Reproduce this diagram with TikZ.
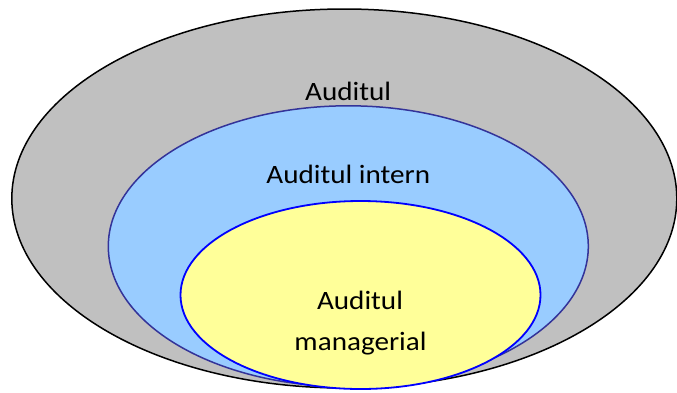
\documentclass[tikz,border=0pt]{standalone}
\usepackage{fontspec}
\setmainfont{Carlito}
\usetikzlibrary{shapes.geometric}
\definecolor{outerfill}{HTML}{C0C0C0}
\definecolor{midfill}{HTML}{99CCFF}
\definecolor{middraw}{HTML}{333399}
\definecolor{innerfill}{HTML}{FFFF99}
\definecolor{innerdraw}{HTML}{0000FF}
\newcommand{\wide}[1]{\scalebox{1.1}[1]{#1}}
\tikzset{
  ring/.style={ellipse, inner sep=0pt, outer sep=0pt},
  lbl/.style={anchor=base, inner sep=0pt, font=\fontsize{26.5}{32}\selectfont},
}
\begin{document}
\begin{tikzpicture}[x=1pt, y=-1pt]
\useasboundingbox (0,0) rectangle (677,392);
\node[ring, draw=black, line width=1.5pt, fill=outerfill, minimum width=665pt, minimum height=379pt] (outer) at (344.3,198.5) {};
\node[ring, draw=middraw, line width=1.5pt, fill=midfill, minimum width=480pt, minimum height=281pt] (mid) at (348.3,246.3) {};
\node[ring, draw=innerdraw, line width=1.8pt, fill=innerfill, minimum width=360pt, minimum height=188pt] (inner) at (360.5,295) {};
\node[lbl] (t1) at (348.2,100) {\wide{Auditul}};
\node[lbl] (t2) at (348.3,183.3) {\wide{Auditul intern}};
\node[lbl] (t3) at (360,309) {\wide{Auditul}};
\node[lbl] (t4) at (360.5,350) {\wide{managerial}};
\end{tikzpicture}
\end{document}
